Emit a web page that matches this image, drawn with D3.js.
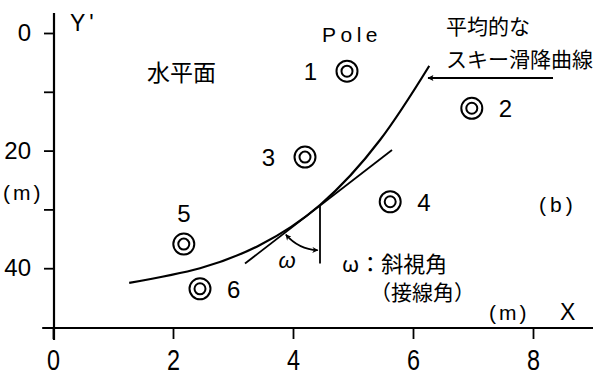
<!DOCTYPE html>
<html>
<head>
<meta charset="utf-8">
<script src="https://cdn.jsdelivr.net/npm/d3@7"></script>
<style>
  html, body { margin: 0; padding: 0; background: #fff; }
  svg { display: block; }
  .num { font-family: "Liberation Sans", Arial, sans-serif; fill: #000; }
  .jp { font-family: "Noto Sans CJK JP", "Noto Sans", sans-serif; fill: #000; }
</style>
</head>
<body>
<svg id="chart" width="597" height="380"></svg>
<script>
// Pole positions on the horizontal plane (X, Y' in metres)
const poleIds = ["1", "2", "3", "4", "5", "6"];
const poleX = [4.9, 6.98, 4.2, 5.62, 2.18, 2.45];
const poleY = [6.5, 12.8, 21.1, 28.7, 35.9, 43.5];

// Average ski descent curve
const curveX = [1.27, 2.45, 3.45, 4.45, 5.45, 6.27];
const curveY = [42.5, 40.0, 36.05, 29.25, 18.2, 5.6];

// Tangent line at the contact point and the vertical reference
const tangentX = [3.2, 5.65];
const tangentY = [39.2, 19.9];
const contactPoint = [4.45, 29.3];
const verticalEndY = 39.2;

// Axis ticks
const xTicks = [0, 2, 4, 6, 8];
const yTicks = [0, 10, 20, 30, 40];
const yTickLabels = ["0", "", "20", "", "40"];

const svg = d3.select("#chart");
const x = d3.scaleLinear().domain([0, 9]).range([53, 593]);
const y = d3.scaleLinear().domain([0, 50]).range([33, 327]);

const defs = svg.append("defs");
defs.append("marker")
  .attr("id", "head")
  .attr("viewBox", "0 0 10 10")
  .attr("refX", 9).attr("refY", 5)
  .attr("markerWidth", 10).attr("markerHeight", 6)
  .attr("markerUnits", "userSpaceOnUse")
  .attr("orient", "auto-start-reverse")
  .append("path").attr("d", "M0,0 L10,5 L0,10 L3,5 Z").attr("fill", "#000");
defs.append("marker")
  .attr("id", "longhead")
  .attr("viewBox", "0 0 10 10")
  .attr("refX", 9).attr("refY", 5)
  .attr("markerWidth", 13).attr("markerHeight", 6)
  .attr("markerUnits", "userSpaceOnUse")
  .attr("orient", "auto")
  .append("path").attr("d", "M0,0 L10,5 L0,10 L2,5 Z").attr("fill", "#000");

// ---- Axes ----
const axisY = x(0) + 1;
const axisX = y(50) + 1;

svg.append("line")
  .attr("x1", axisY).attr("x2", axisY)
  .attr("y1", y(-3.4)).attr("y2", y(52.2))
  .attr("stroke", "#000").attr("stroke-width", 2.2);
svg.append("line")
  .attr("x1", x(-0.18)).attr("x2", x(9.0))
  .attr("y1", axisX).attr("y2", axisX)
  .attr("stroke", "#000").attr("stroke-width", 2.2);

const gy = svg.append("g")
  .attr("transform", `translate(${axisY},0)`)
  .call(d3.axisLeft(y).tickValues(yTicks).tickSize(10).tickPadding(13)
    .tickFormat((d, i) => yTickLabels[i]));
gy.select(".domain").remove();
gy.selectAll(".tick line").attr("stroke", "#000").attr("stroke-width", 1.8);
gy.selectAll(".tick text").attr("class", "num").attr("font-size", 24)
  .attr("font-family", null);

const gx = svg.append("g")
  .attr("transform", `translate(0,${axisX})`)
  .call(d3.axisBottom(x).tickValues(xTicks).tickSize(11).tickPadding(10)
    .tickFormat(d3.format("d")));
gx.select(".domain").remove();
gx.selectAll(".tick line").attr("stroke", "#000").attr("stroke-width", 1.8);
gx.selectAll(".tick text").attr("class", "num").attr("font-size", 30)
  .attr("font-family", null)
  .attr("transform", "scale(0.78,1)");

// Axis titles and units
svg.append("text").attr("class", "num").attr("x", 70).attr("y", 31)
  .attr("font-size", 23).attr("letter-spacing", 4).text("Y'");
svg.append("text").attr("class", "num").attr("x", 3).attr("y", 200)
  .attr("font-size", 21).attr("letter-spacing", 3).text("(m)");
svg.append("text").attr("class", "num").attr("x", 489).attr("y", 320)
  .attr("font-size", 21).attr("letter-spacing", 3).text("(m)");
svg.append("text").attr("class", "num").attr("x", 560).attr("y", 320)
  .attr("font-size", 23).text("X");
svg.append("text").attr("class", "num").attr("x", 539).attr("y", 212)
  .attr("font-size", 21).attr("letter-spacing", 4).text("(b)");

// ---- Ski descent curve ----
const curvePts = curveX.map((v, i) => [v, curveY[i]]);
svg.append("path")
  .datum(curvePts)
  .attr("d", d3.line().x(d => x(d[0])).y(d => y(d[1])).curve(d3.curveNatural))
  .attr("fill", "none").attr("stroke", "#000").attr("stroke-width", 2.2);

// Tangent line
svg.append("line")
  .attr("x1", x(tangentX[0])).attr("y1", y(tangentY[0]))
  .attr("x2", x(tangentX[1])).attr("y2", y(tangentY[1]))
  .attr("stroke", "#000").attr("stroke-width", 1.8);

// Vertical reference through the contact point
svg.append("line")
  .attr("x1", x(contactPoint[0])).attr("y1", y(contactPoint[1]))
  .attr("x2", x(contactPoint[0])).attr("y2", y(verticalEndY))
  .attr("stroke", "#000").attr("stroke-width", 1.8);

// Angle arc ω between tangent and vertical
{
  const cx = x(contactPoint[0]), cy = y(contactPoint[1]);
  const tx = x(tangentX[0]) - cx, ty = y(tangentY[0]) - cy;
  const aT = Math.atan2(ty, tx) - 0.05;
  const aV = Math.PI / 2 + 0.05;
  const r = 45;
  const p1 = [cx + r * Math.cos(aT), cy + r * Math.sin(aT)];
  const p2 = [cx + r * Math.cos(aV), cy + r * Math.sin(aV)];
  svg.append("path")
    .attr("d", `M${p1[0]},${p1[1]} A${r},${r} 0 0 0 ${p2[0]},${p2[1]}`)
    .attr("fill", "none").attr("stroke", "#000").attr("stroke-width", 1.6)
    .attr("marker-start", "url(#head)").attr("marker-end", "url(#head)");
}
svg.append("text").attr("class", "num").attr("x", 287).attr("y", 268)
  .attr("font-size", 22).attr("font-style", "italic").attr("text-anchor", "middle")
  .text("ω");

// ---- Poles ----
const poles = poleIds.map((id, i) => ({ id, x: poleX[i], y: poleY[i] }));
const labelPlace = { "1": "left", "2": "right", "3": "left", "4": "right", "5": "above", "6": "right" };
const pg = svg.append("g").selectAll("g").data(poles).join("g")
  .attr("transform", d => `translate(${x(d.x)},${y(d.y)})`);
pg.append("circle").attr("r", 10.5).attr("fill", "none").attr("stroke", "#000").attr("stroke-width", 2);
pg.append("circle").attr("r", 5.5).attr("fill", "none").attr("stroke", "#000").attr("stroke-width", 2);
pg.append("text").attr("class", "num").attr("font-size", 24)
  .attr("text-anchor", d => labelPlace[d.id] === "left" ? "end" : labelPlace[d.id] === "right" ? "start" : "middle")
  .attr("x", d => labelPlace[d.id] === "left" ? -30 : labelPlace[d.id] === "right" ? 27 : 0)
  .attr("y", d => labelPlace[d.id] === "above" ? -22 : 9)
  .text(d => d.id);

svg.append("text").attr("class", "num").attr("x", 322).attr("y", 42)
  .attr("font-size", 21).attr("letter-spacing", 4.5).text("Pole");

// ---- Japanese annotations ----
svg.append("text").attr("class", "jp").attr("x", 147).attr("y", 81)
  .attr("font-size", 23).text("水平面");
svg.append("text").attr("class", "jp").attr("x", 446).attr("y", 34)
  .attr("font-size", 21).text("平均的な");
svg.append("text").attr("class", "jp").attr("x", 446).attr("y", 67)
  .attr("font-size", 21).text("スキー滑降曲線");
svg.append("line")
  .attr("x1", 553).attr("y1", 78).attr("x2", 428).attr("y2", 78)
  .attr("stroke", "#000").attr("stroke-width", 2)
  .attr("marker-end", "url(#longhead)");
svg.append("text").attr("class", "jp").attr("x", 342).attr("y", 272)
  .attr("font-size", 22).text("ω：斜視角");
svg.append("text").attr("class", "jp").attr("x", 370).attr("y", 300)
  .attr("font-size", 21).text("（接線角）");
</script>
</body>
</html>
